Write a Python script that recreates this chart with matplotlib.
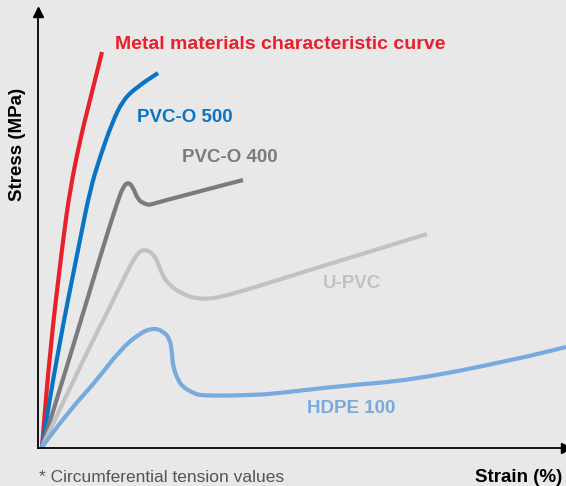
import numpy as np
import matplotlib.pyplot as plt
from matplotlib.path import Path
from matplotlib.patches import PathPatch

# schematic stress-strain curves (arbitrary units, origin at axis corner)
metal_x = [0, 8, 21, 28, 38, 48, 60]
metal_y = [0, 97, 207, 257, 307, 347, 395]

pvco500_x = [0, 16, 38, 48, 58, 70, 81, 95, 116]
pvco500_y = [0, 97, 207, 257, 290, 324, 347, 360, 374]

pvco400_x = [0, 30, 58, 75, 81, 86, 91, 96, 103, 108, 113, 201]
pvco400_y = [0, 97, 190, 244, 260, 265, 260, 247, 243, 242, 244, 267]

upvc_x = [0, 46, 65, 81, 95, 103, 113, 121, 128, 138, 158, 185, 258, 385]
upvc_y = [0, 97, 134, 167, 194, 198, 192, 170, 162, 154, 147, 151, 174, 213]

hdpe_x = [0, 28, 55, 78, 98, 111, 121, 128, 130, 131, 136, 141, 151, 161,
          215, 238, 298, 371, 471, 524]
hdpe_y = [0, 37, 67, 97, 114, 119, 116, 108, 94, 80, 67, 60, 54, 51,
          52, 54, 61, 67, 87, 100]

series = [
    ("Metal materials characteristic curve", metal_x, metal_y, "#e8202a", (73, 402), 14),
    ("PVC-O 500", pvco500_x, pvco500_y, "#0a74c4", (95, 329), 13.5),
    ("PVC-O 400", pvco400_x, pvco400_y, "#7b7b7d", (140, 289), 13.5),
    ("U-PVC", upvc_x, upvc_y, "#c2c2c4", (281, 163), 13.5),
    ("HDPE 100", hdpe_x, hdpe_y, "#77aadf", (265, 39), 13.5),
]

bg = "#e8e8e8"
font = ["Liberation Sans", "DejaVu Sans"]


def smooth_line(ax, xs, ys, **kw):
    # quadratic curve through segment midpoints, read points act as control points
    pts = np.column_stack([xs, ys]).astype(float)
    mids = (pts[:-1] + pts[1:]) / 2
    verts = [pts[0], mids[0]]
    codes = [Path.MOVETO, Path.LINETO]
    for i in range(1, len(pts) - 1):
        verts += [pts[i], mids[i]]
        codes += [Path.CURVE3, Path.CURVE3]
    verts.append(pts[-1])
    codes.append(Path.LINETO)
    ax.add_patch(PathPatch(Path(verts, codes), fill=False, **kw))


fig = plt.figure(figsize=(5.66, 4.86), dpi=100, facecolor=bg)
ax = fig.add_axes([38 / 566, 38 / 486, 528 / 566, 436 / 486], facecolor=bg)
ax.set_xlim(-4, 524)
ax.set_ylim(-1, 435)

for name, xs, ys, col, pos, fs in series:
    smooth_line(ax, xs, ys, edgecolor=col, lw=3, capstyle="butt", joinstyle="round")
    ax.text(pos[0], pos[1], name, color=col, fontsize=fs, fontweight="bold",
            family=font, ha="left", va="center")

for s in ["top", "right"]:
    ax.spines[s].set_visible(False)
for s in ["left", "bottom"]:
    ax.spines[s].set_color("black")
    ax.spines[s].set_linewidth(1.3)
ax.set_xticks([])
ax.set_yticks([])

# arrow heads
ax.plot(0, 1, "^k", ms=7, transform=ax.transAxes, clip_on=False)
ax.plot(1, 0, ">k", ms=7, transform=ax.transAxes, clip_on=False)

fig.text(18 / 566, 1 - 144 / 486, "Stress (MPa)", rotation=90, fontsize=13.5,
         fontweight="bold", family=font, ha="center", va="center")
fig.text(562 / 566, 1 - 477 / 486, "Strain (%)", fontsize=13.5, fontweight="bold",
         family=font, ha="right", va="center")
fig.text(39 / 566, 1 - 477 / 486, "* Circumferential tension values", fontsize=12.5,
         color="#555555", family=font, ha="left", va="center")

fig.savefig("out.png", dpi=100, facecolor=bg)
